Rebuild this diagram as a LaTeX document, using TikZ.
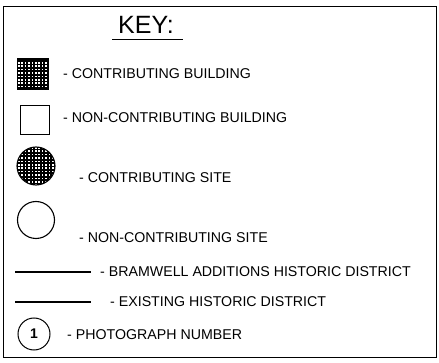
\documentclass[tikz,border=0pt]{standalone}
\usepackage{fontspec}
\setmainfont{Liberation Sans}
\begin{document}
\begin{tikzpicture}[x=1pt,y=-1pt,
  lbl/.style={anchor=west,inner sep=0pt,font=\fontsize{14.2}{16}\selectfont},
  sym/.style={draw=black,line width=1.1pt},
  hatch/.style={line width=1.8pt,black},
  legline/.style={line width=1.3pt}]
\useasboundingbox (0,0) rectangle (439,363);
\node[draw=black,line width=0.8pt,minimum width=433pt,minimum height=351pt,inner sep=0pt] (frame) at (219.5,182) {};
% title
\node[inner sep=0pt,font=\fontsize{25}{28}\selectfont] (key) at (146,25) {KEY:};
\draw[line width=0.9pt] (112,39) -- (183,39);
% contributing building
\begin{scope}
\clip (17.5,59) rectangle (48.5,89);
\fill[white] (17.5,59) rectangle (48.5,89);
\draw[hatch] (15,56) grid[step=3.4pt] (52,92);
\end{scope}
\node[sym,minimum width=31pt,minimum height=30pt,inner sep=0pt] (cb) at (33,74) {};
\node[lbl] (tcb) at (63,74) {- CONTRIBUTING BUILDING};
% non-contributing building
\node[sym,minimum width=29pt,minimum height=29pt,inner sep=0pt] (ncb) at (35,120) {};
\node[lbl] (tncb) at (63,118) {- NON-CONTRIBUTING BUILDING};
% contributing site
\begin{scope}
\clip (36,166) circle (19);
\fill[white] (36,166) circle (19);
\draw[hatch] (14,144) grid[step=3.4pt] (58,188);
\end{scope}
\node[sym,circle,minimum size=38pt,inner sep=0pt] (cs) at (36,166) {};
\node[lbl] (tcs) at (79,178) {- CONTRIBUTING SITE};
% non-contributing site
\node[sym,circle,minimum size=37pt,inner sep=0pt] (ncs) at (36,220) {};
\node[lbl] (tncs) at (79,238) {- NON-CONTRIBUTING SITE};
% lines
\coordinate (l1a) at (15,272);
\coordinate (l1b) at (91,272);
\draw[legline] (l1a) -- (l1b);
\node[lbl] (tl1) at (100,272) {- BRAMWELL ADDITIONS HISTORIC DISTRICT};
\coordinate (l2a) at (15,302);
\coordinate (l2b) at (91,302);
\draw[legline] (l2a) -- (l2b);
\node[lbl] (tl2) at (110,302) {- EXISTING HISTORIC DISTRICT};
% photograph number
\node[draw=black,line width=1pt,circle,minimum size=32pt,inner sep=0pt,font=\fontsize{14}{16}\bfseries\selectfont] (pn) at (34,334) {1};
\node[lbl] (tpn) at (67,335) {- PHOTOGRAPH NUMBER};
\end{tikzpicture}
\end{document}
